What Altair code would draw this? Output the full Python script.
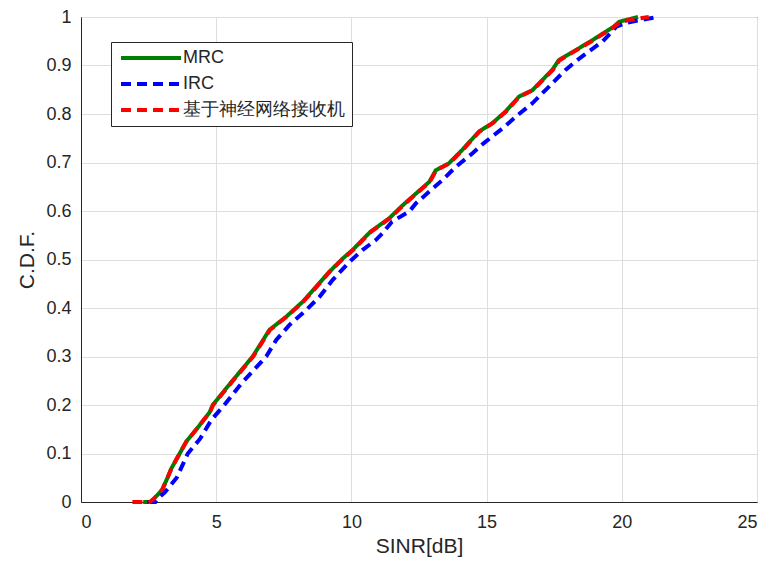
import altair as alt
import pandas as pd

series_names = ["MRC", "IRC", "基于神经网络接收机"]
series_colors = ["#008000", "#0000ff", "#ff0000"]
series_dash = [[1, 0], [10, 6], [10, 6]]

mrc_x = [2.3, 2.6, 2.75, 3.0, 3.2, 3.35, 3.65, 3.9, 4.27, 4.76, 4.87, 5.6, 6.35, 6.97, 7.59, 8.2,
         8.7, 9.19, 9.68, 10.05, 10.7, 11.4, 11.9, 12.39, 12.88, 13.12, 13.6, 14.1, 14.72, 15.21,
         15.7, 16.2, 16.69, 17.06, 17.43, 17.67, 18.85, 19.7, 19.9, 20.1, 20.6]
mrc_y = [0, 0, 0.01, 0.025, 0.05, 0.07, 0.10, 0.125, 0.15, 0.185, 0.2, 0.25, 0.3, 0.355, 0.382, 0.413,
         0.444, 0.475, 0.502, 0.52, 0.557, 0.585, 0.612, 0.636, 0.66, 0.684, 0.698, 0.726, 0.764, 0.781,
         0.805, 0.836, 0.849, 0.87, 0.891, 0.911, 0.95, 0.98, 0.99, 0.993, 1.0]

irc_x = [2.45, 2.75, 2.9, 3.1, 3.54, 3.95, 4.4, 4.83, 5.3, 5.94, 6.85, 7.22, 7.71, 8.33, 8.82, 9.31,
         9.93, 10.42, 10.9, 11.15, 11.5, 12.14, 12.39, 12.88, 13.37, 13.86, 14.48, 14.9, 15.58, 16.2,
         16.69, 17.3, 17.92, 18.35, 19.3, 19.8, 20.1, 20.6, 21.35]
irc_y = [0, 0, 0.01, 0.02, 0.05, 0.1, 0.13, 0.17, 0.2, 0.245, 0.3, 0.334, 0.365, 0.396, 0.423, 0.458,
         0.495, 0.52, 0.54, 0.554, 0.578, 0.599, 0.616, 0.64, 0.664, 0.691, 0.719, 0.74, 0.77, 0.8,
         0.822, 0.856, 0.891, 0.911, 0.95, 0.98, 0.987, 0.993, 1.0]

nn_x = [1.9, 2.55, 2.75, 3.0, 3.2, 3.35, 3.65, 3.9, 4.27, 4.76, 4.89, 5.62, 6.37, 6.99, 7.6, 8.22,
        8.72, 9.2, 9.7, 10.07, 10.72, 11.42, 11.92, 12.41, 12.9, 13.14, 13.62, 14.12, 14.74, 15.23,
        15.72, 16.22, 16.71, 17.08, 17.45, 17.7, 18.88, 19.72, 19.95, 20.3, 21.0]
nn_y = [0, 0, 0.01, 0.025, 0.05, 0.07, 0.10, 0.125, 0.15, 0.185, 0.2, 0.25, 0.3, 0.355, 0.382, 0.413,
        0.444, 0.475, 0.502, 0.52, 0.557, 0.585, 0.612, 0.636, 0.66, 0.684, 0.698, 0.726, 0.764, 0.781,
        0.805, 0.836, 0.849, 0.87, 0.891, 0.911, 0.95, 0.98, 0.99, 0.994, 1.0]

x_ticks = [0, 5, 10, 15, 20, 25]
y_ticks = [0, 0.1, 0.2, 0.3, 0.4, 0.5, 0.6, 0.7, 0.8, 0.9, 1.0]

rows = []
for name, xs, ys in [(series_names[0], mrc_x, mrc_y), (series_names[1], irc_x, irc_y),
                     (series_names[2], nn_x, nn_y)]:
    for i, (a, b) in enumerate(zip(xs, ys)):
        rows.append({"series": name, "x": a, "y": b, "i": i})
df = pd.DataFrame(rows)

FONT = "Liberation Sans"
TXT = "#262626"

x_enc = alt.X("x:Q", scale=alt.Scale(domain=[0, 25], nice=False),
              axis=alt.Axis(values=x_ticks, title="SINR[dB]", format="~g"))
y_enc = alt.Y("y:Q", scale=alt.Scale(domain=[0, 1], nice=False),
              axis=alt.Axis(values=y_ticks, title="C.D.F.", format=".1~f"))
leg = alt.Legend(title=None, orient="none", legendX=30, legendY=25)
color_enc = alt.Color("series:N", scale=alt.Scale(domain=series_names, range=series_colors), legend=leg)
dash_enc = alt.StrokeDash("series:N", scale=alt.Scale(domain=series_names, range=series_dash), legend=leg)

layers = []
for name in series_names:
    layers.append(
        alt.Chart(df).transform_filter(alt.datum.series == name)
        .mark_line(strokeWidth=4)
        .encode(x=x_enc, y=y_enc, color=color_enc, strokeDash=dash_enc, order="i:Q")
    )

chart = alt.layer(*layers).properties(
    width=676, height=485,
    autosize=alt.AutoSizeParams(type="none"),
    padding={"left": 73, "top": 9, "right": 10, "bottom": 56},
    background="white",
).configure_view(
    stroke=TXT, strokeWidth=1
).configure_axis(
    labelFont=FONT, titleFont=FONT, labelFontSize=18, titleFontSize=21,
    labelColor=TXT, titleColor=TXT, titleFontWeight="normal",
    domainColor=TXT, domainWidth=1, ticks=False,
    grid=True, gridColor="#dedede", gridWidth=1,
).configure_axisX(
    labelPadding=11, titlePadding=4,
).configure_axisY(
    labelPadding=10, titlePadding=8,
).configure_legend(
    labelFont=FONT, labelFontSize=18, labelColor=TXT, labelLimit=400,
    symbolType="M-6,0H6", symbolSize=100, symbolStrokeWidth=4, symbolOffset=24,
    strokeColor=TXT, fillColor="white", padding=7, rowPadding=8,
    labelOffset=23,
)

chart.save("out.html", embed_options={"renderer": "svg", "actions": False})
